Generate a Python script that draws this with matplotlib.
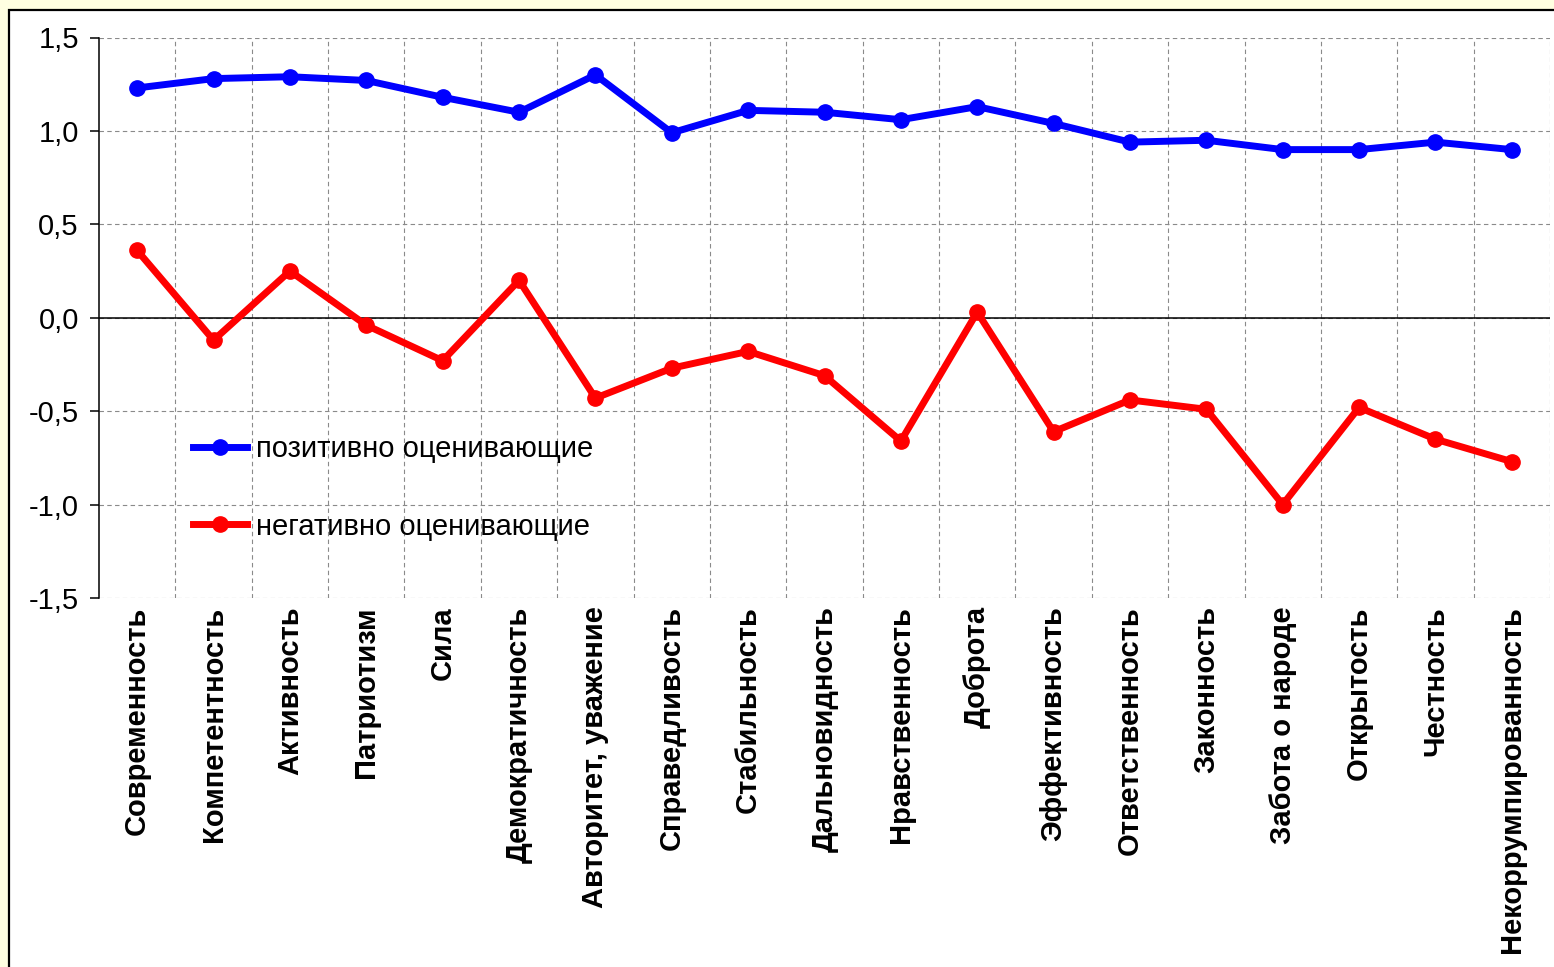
import numpy as np
import matplotlib
matplotlib.use("Agg")
import matplotlib.pyplot as plt
from matplotlib.patches import Rectangle
from matplotlib.ticker import FuncFormatter, FixedLocator

plt.rcParams['font.family'] = ['Liberation Sans', 'DejaVu Sans']

categories = ['Современность', 'Компетентность', 'Активность', 'Патриотизм', 'Сила',
              'Демократичность', 'Авторитет, уважение', 'Справедливость', 'Стабильность',
              'Дальновидность', 'Нравственность', 'Доброта', 'Эффективность',
              'Ответственность', 'Законность', 'Забота о народе', 'Открытость',
              'Честность', 'Некоррумпированность']
positive = [1.23, 1.28, 1.29, 1.27, 1.18, 1.10, 1.30, 0.99, 1.11, 1.10,
            1.06, 1.13, 1.04, 0.94, 0.95, 0.90, 0.90, 0.94, 0.90]
negative = [0.36, -0.12, 0.25, -0.04, -0.23, 0.20, -0.43, -0.27, -0.18, -0.31,
            -0.66, 0.03, -0.61, -0.44, -0.49, -1.00, -0.48, -0.65, -0.77]
series_names = ['позитивно оценивающие', 'негативно оценивающие']
y_ticks = [-1.5, -1.0, -0.5, 0.0, 0.5, 1.0, 1.5]

W, H = 1554, 967
fig = plt.figure(figsize=(W / 100, H / 100), dpi=100)
fig.patch.set_facecolor('#FFFFE1')

# white panel with black frame (right and bottom sides run off the picture)
panel = Rectangle((9 / W, -0.1), 1.2, 1.1 - 10 / H, transform=fig.transFigure,
                  facecolor='white', edgecolor='black', lw=1.6, zorder=-1)
fig.add_artist(panel)

ax = fig.add_axes([99 / W, 1 - 598 / H, (1550 - 99) / W, (598 - 37.5) / H])
ax.set_facecolor('none')

x = np.arange(len(categories))
ax.plot(x, positive, color='#0000FF', lw=5, marker='o', ms=11, label=series_names[0], zorder=4)
ax.plot(x, negative, color='#FF0000', lw=5, marker='o', ms=11, label=series_names[1], zorder=4)

ax.set_xlim(-0.5, len(categories) - 0.5)
ax.set_ylim(-1.5, 1.5)

ax.set_xticks(x)
ax.set_xticklabels(categories, rotation=90, fontsize=21, fontweight='bold')
ax.xaxis.set_minor_locator(FixedLocator(np.arange(0.5, len(categories), 1)))
ax.tick_params(axis='x', which='both', length=0, pad=6)

ax.set_yticks(y_ticks)
ax.yaxis.set_major_formatter(FuncFormatter(lambda v, p: f"{v:.1f}".replace('.', ',')))
ax.tick_params(axis='y', length=6.5, width=1.1, pad=8, labelsize=21, color='black')

ax.grid(True, axis='y', which='major', color='#8a8a8a', lw=0.8, ls=(0, (4, 3)))
ax.grid(True, axis='x', which='minor', color='#8a8a8a', lw=0.8, ls=(0, (4, 3)))
ax.axhline(0, color='black', lw=1.1, zorder=3)

for s in ['top', 'right', 'bottom']:
    ax.spines[s].set_visible(False)
ax.spines['left'].set_linewidth(1.1)

leg = ax.legend(loc='upper left', bbox_to_anchor=(193 / W, 1 - 435 / H),
                bbox_transform=fig.transFigure, frameon=False, fontsize=21,
                numpoints=1, handlelength=1.85, handletextpad=0.3,
                labelspacing=1.7, borderpad=0, borderaxespad=0)

fig.savefig('out.png', dpi=100, facecolor=fig.get_facecolor())
